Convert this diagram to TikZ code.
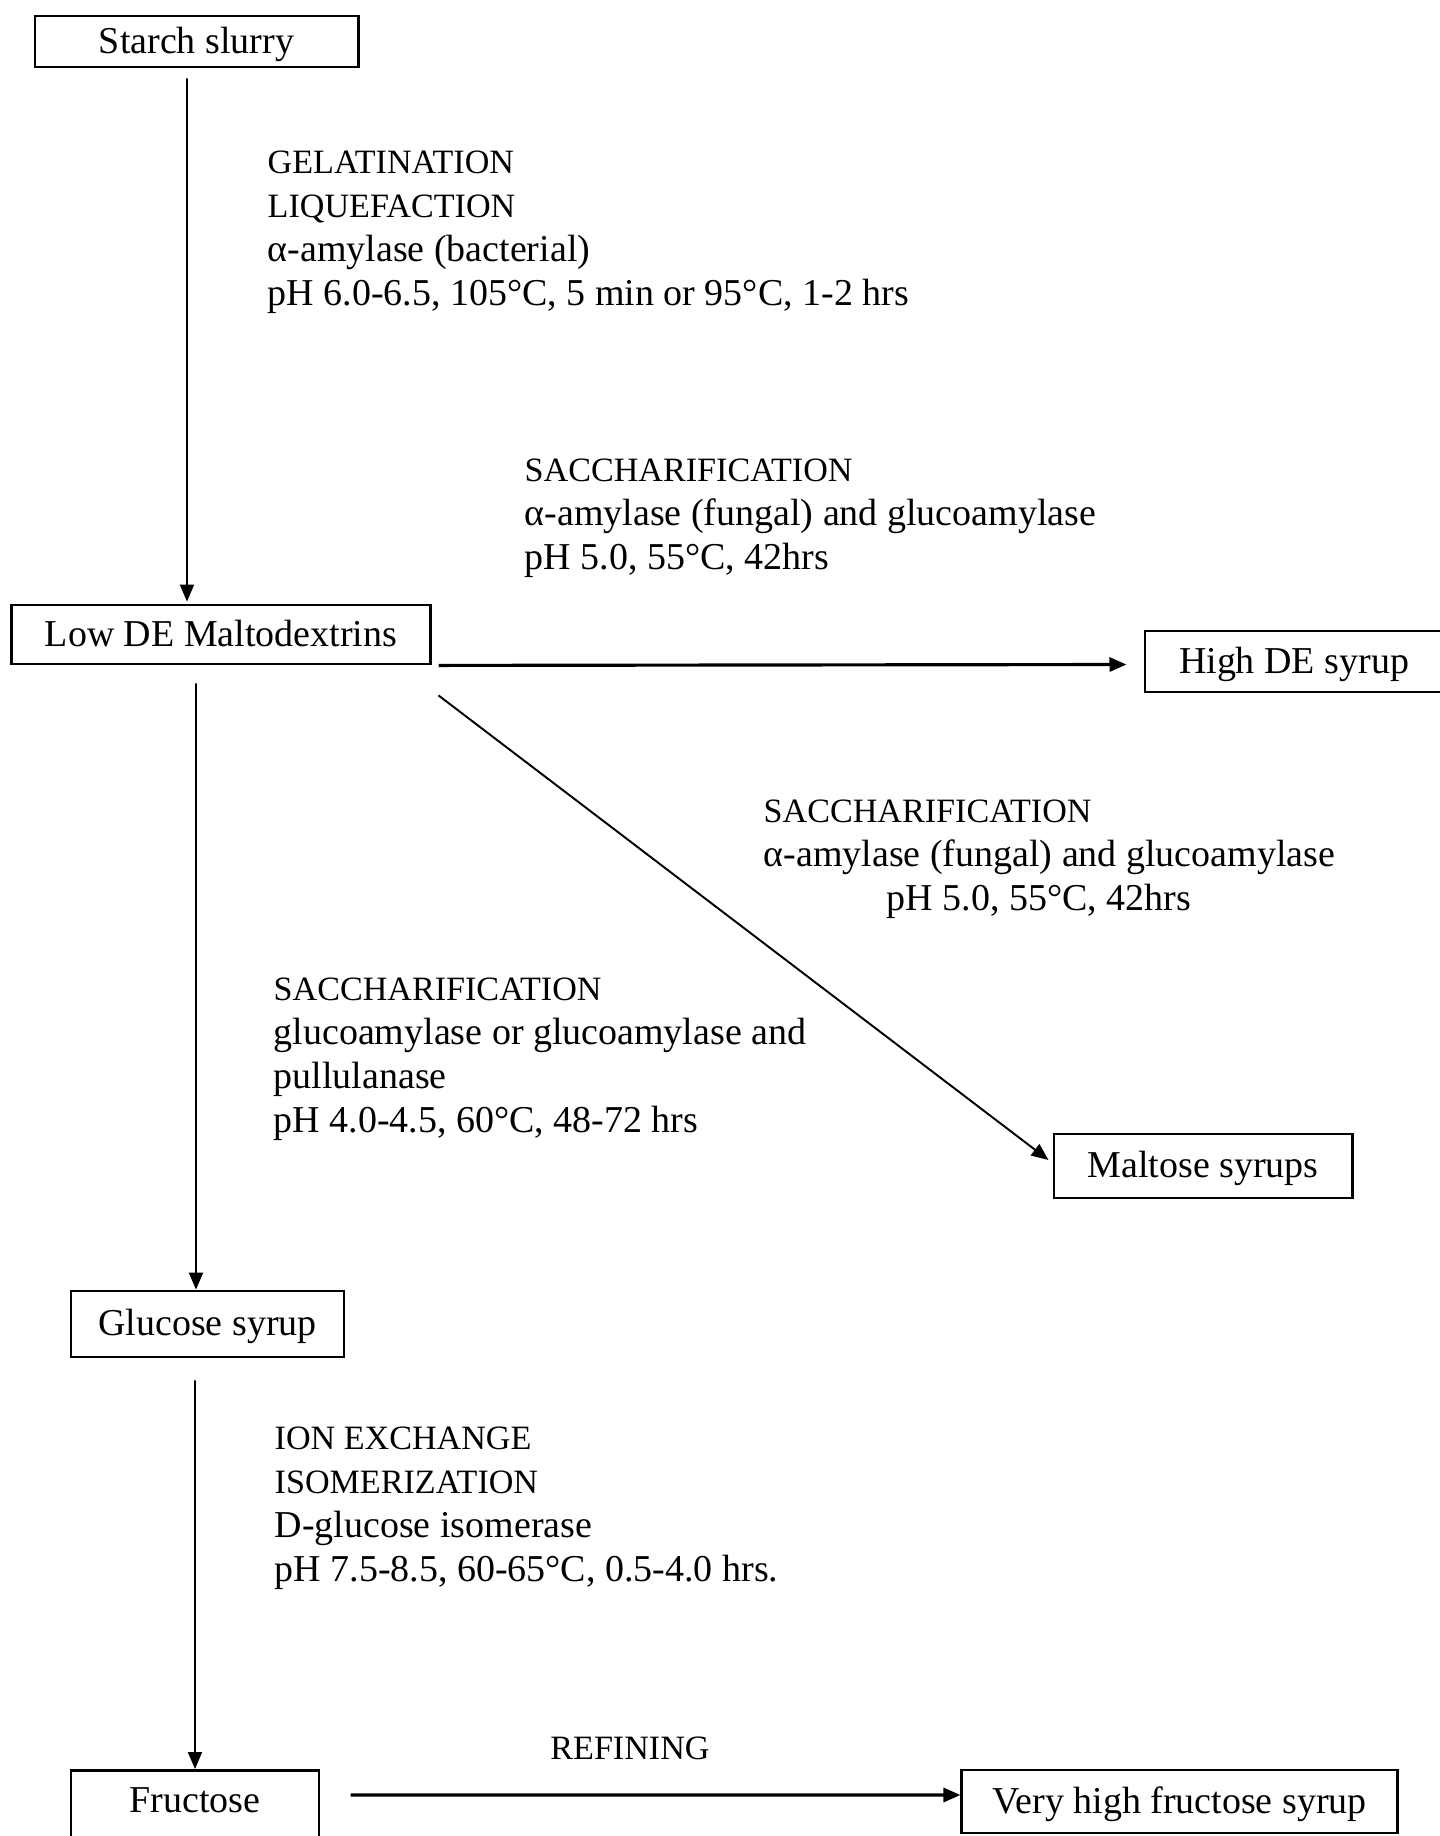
\documentclass[tikz,border=0pt]{standalone}
\usepackage {amsmath}
\usepackage {amssymb}
\usepackage {xcolor}
\usepackage{fontspec}
\setmainfont{Liberation Serif}
\usetikzlibrary{arrows.meta}
\newcommand{\capline}[1]{{\fontsize{9.7}{12.5}\selectfont #1}}

\begin{document}
\begin{tikzpicture}[x=0.01cm, y=0.01cm]
\tikzstyle{every node}+=[inner sep=0pt, font=\fontsize{10.8}{12.5}\selectfont]
\tikzstyle{box}=[draw=black, line width=0.8pt, text height=8.0pt, text depth=1.2pt]
\tikzstyle{lbl}=[anchor=north west, align=left]
\tikzstyle{arr}=[black, line width=0.55pt, -{Triangle[length=1.7mm,width=1.4mm]}]
\tikzstyle{harr}=[arr, line width=0.9pt]
\useasboundingbox (0,0) rectangle (1440,-1836);
\clip (0,0) rectangle (1440,-1836);
\fill [white] (0,0) rectangle (1440,-1836);
\node [box, minimum width=3.23cm, minimum height=0.51cm] (starch) at (196.5,-41.5) {Starch slurry};
\node [box, minimum width=4.18cm, minimum height=0.59cm] (lowde) at (221,-634.5) {Low DE Maltodextrins};
\node [box, minimum width=2.98cm, minimum height=0.61cm] (highde) at (1294,-661.5) {High DE syrup};
\node [box, minimum width=2.98cm, minimum height=0.64cm] (maltose) at (1203,-1166) {Maltose syrups};
\node [box, minimum width=2.73cm, minimum height=0.66cm] (glucose) at (207.5,-1324) {Glucose syrup};
\node [draw=black, line width=0.8pt, minimum width=2.48cm, text height=0.42cm, text depth=0.8cm, anchor=north] (fructose) at (195,-1769) {Fructose};
\node [box, minimum width=4.35cm, minimum height=0.63cm] (vhfs) at (1179.5,-1801.5) {Very high fructose syrup};
\node [lbl] (gel) at (267,-150.5) {\capline{GELATINATION}\\\capline{LIQUEFACTION}\\α-amylase (bacterial)\\pH 6.0-6.5, 105°C, 5 min or 95°C, 1-2 hrs};
\node [lbl] (sacc1) at (524,-458.5) {\capline{SACCHARIFICATION}\\α-amylase (fungal) and glucoamylase\\pH 5.0, 55°C, 42hrs};
\node [lbl] (sacc2) at (763,-799) {\capline{SACCHARIFICATION}\\α-amylase (fungal) and glucoamylase\\\hspace*{1.23cm}pH 5.0, 55°C, 42hrs};
\node [lbl] (sacc3) at (273,-977) {\capline{SACCHARIFICATION}\\glucoamylase or glucoamylase and\\pullulanase\\pH 4.0-4.5, 60°C, 48-72 hrs};
\node [lbl] (ionx) at (274,-1426.5) {\capline{ION EXCHANGE}\\\capline{ISOMERIZATION}\\D-glucose isomerase\\pH 7.5-8.5, 60-65°C, 0.5-4.0 hrs.};
\node (refin) at (630,-1748) {\capline{REFINING}};
\draw [arr] ([xshift=-0.095cm,yshift=-0.10cm]starch.south) -- ([xshift=-0.34cm,yshift=0.02cm]lowde.north);
\draw [arr] ([xshift=-0.25cm,yshift=-0.18cm]lowde.south) -- ([xshift=-0.115cm]glucose.north);
\draw [arr] ([xshift=-0.125cm,yshift=-0.22cm]glucose.south) -- (fructose.north);
\draw [harr] ([xshift=0.07cm]lowde.south east) -- ([xshift=-0.17cm,yshift=-0.03cm]highde.west);
\draw [arr] ([xshift=0.07cm,yshift=-0.30cm]lowde.south east) -- ([xshift=-0.04cm,yshift=0.06cm]maltose.west);
\draw [harr] ([xshift=0.30cm,yshift=-0.26cm]fructose.north east) -- ([yshift=0.065cm]vhfs.west);
\end{tikzpicture}
\end{document}
